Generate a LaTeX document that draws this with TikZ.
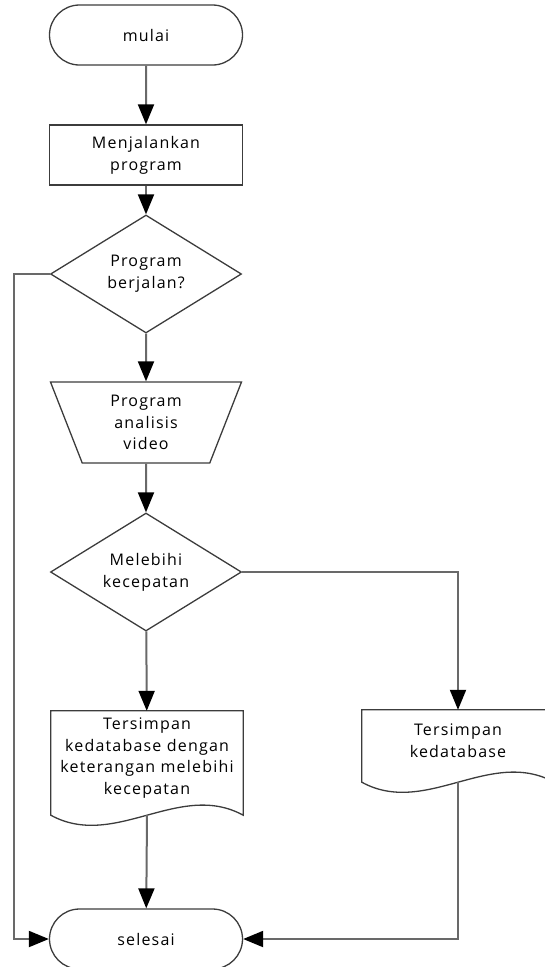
\documentclass[tikz,border=0pt]{standalone}
\usepackage{fontspec}
\setmainfont[LetterSpace=7.5]{Open Sans}
\usepackage{tikz}
\usetikzlibrary{shapes}
\usetikzlibrary{shapes.misc}
\usetikzlibrary{shapes.geometric}
\usetikzlibrary{arrows.meta}
\usepackage{xcolor}
\definecolor{linegray}{RGB}{105,105,105}
\definecolor{edgegray}{RGB}{60,60,60}

% outline of a document symbol round a named node
\newcommand{\docoutline}[1]{%
\draw[shapeline] (#1.north west) -- (#1.north east) -- ([yshift=-10pt]#1.south east)
  .. controls +(-64,-35) and +(64,35) .. ([yshift=-10pt]#1.south west) -- cycle;}

\begin{document}
\begin{tikzpicture}[x=1pt, y=-1pt,
  every node/.style={font=\fontsize{16}{21.7}\selectfont, align=center},
  shapeline/.style={draw=edgegray, line width=1.3pt},
  terminal/.style={shapeline, rounded rectangle, minimum width=193pt, minimum height=60pt, inner sep=0pt},
  process/.style={shapeline, rectangle, minimum width=193pt, minimum height=60pt, inner sep=0pt},
  decision/.style={shapeline, diamond, aspect=1.62, minimum width=191pt, minimum height=118pt, inner sep=0pt},
  manual/.style={shapeline, trapezium, shape border rotate=180, trapezium angle=60, trapezium stretches body, minimum width=191pt, minimum height=81pt, inner sep=0pt},
  document/.style={rectangle, minimum width=192pt, inner sep=0pt},
  flow/.style={draw=linegray, line width=2pt, -{Triangle[width=16pt,length=20pt,color=black]}}]
\useasboundingbox (0,0) rectangle (545,967);

\node [terminal] (start) at (146,35) {mulai};
\node [process] (run) at (146,155) {Menjalankan\\program};
\node [decision] (check) at (146,274) {Program\\berjalan?};
\node [manual] (analysis) at (146,422.5) {Program\\analisis\\video};
\node [decision] (speed) at (146,572) {Melebihi\\kecepatan};
\node [document, minimum height=94pt] (savedover) at (147,758) {Tersimpan\\kedatabase dengan\\keterangan melebihi\\kecepatan};
\docoutline{savedover}
\node [document, minimum height=62pt] (saved) at (458,741) {Tersimpan\\kedatabase};
\docoutline{saved}
\node [terminal] (finish) at (146,939) {selesai};
\coordinate (leftrail) at (14,274);

\draw[flow] (start) -- (run);
\draw[flow] (run) -- (check);
\draw[flow] (check) -- (analysis);
\draw[flow] (analysis) -- (speed);
\draw[flow] (speed) -- (savedover);
\draw[flow] (speed.east) -| (saved.north);
\draw[flow] ([yshift=-10pt]savedover.south) -- (finish);
\draw[flow] ([yshift=-10pt]saved.south) |- (finish.east);
\draw[flow] (check.west) -- (leftrail) |- (finish.west);
\end{tikzpicture}
\end{document}
